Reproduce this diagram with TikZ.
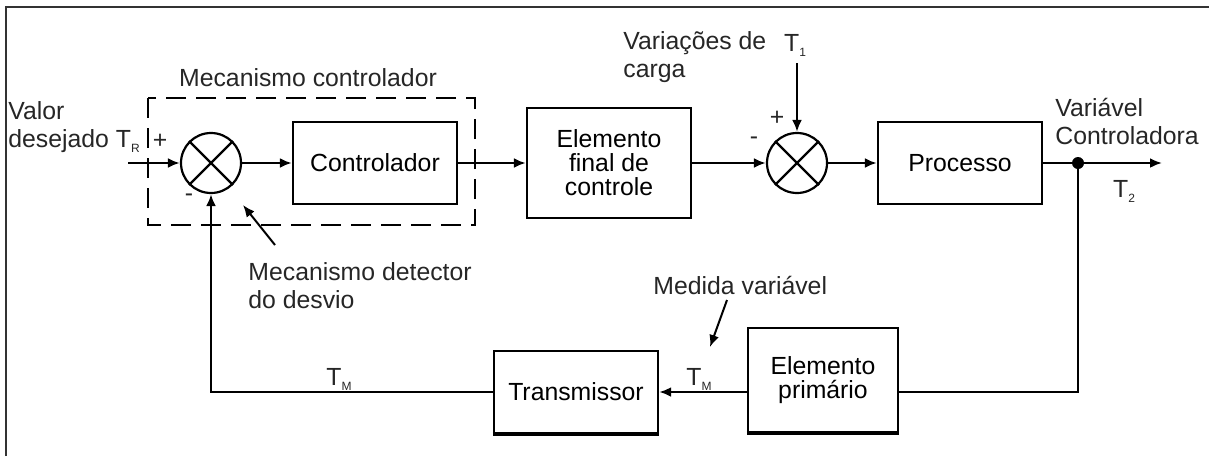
\documentclass[tikz,border=0pt]{standalone}
\usepackage{fontspec}
\setmainfont{Liberation Sans}
\usetikzlibrary{arrows.meta}
\newcommand{\idx}[1]{\raisebox{-2.5pt}{\fontsize{6}{6}\selectfont #1}}
\tikzset{
  bloco/.style={draw, line width=1.2pt, minimum width=82pt, minimum height=41pt, align=center},
  soma/.style={draw, circle, line width=1.1pt, minimum size=30pt, inner sep=0pt},
  linha/.style={line width=1.2pt},
  rotulo/.style={align=left, inner sep=0pt, text=black!85}
}
\begin{document}
\fontsize{12.4}{14}\selectfont
\begin{tikzpicture}[x=0.5pt, y=-0.5pt, >={Latex[length=6pt,width=5pt]}]
	\useasboundingbox (0,0) rectangle (1209,456);
	% 1. moldura
	\draw[line width=1.1pt, black!80] (6,456) -- (6,7) -- (1209,7);
	
	% 2. blocos e somadores
	\node[soma] (s1) at (211,163) {};
	\node[bloco] (ctrl) at (375,163) {Controlador};
	\node[bloco, minimum height=55pt] (efc) at (609,163) {Elemento\\[-2pt]final de\\[-2pt]controle};
	\node[soma] (s2) at (797,163) {};
	\node[bloco] (proc) at (960,163) {Processo};
	\node[bloco, minimum width=75pt, minimum height=52pt] (prim) at (823,380) {Elemento\\[-2pt]primário};
	\node[bloco] (trans) at (576,392) {Transmissor};
	\draw[linha] (s1.north east) -- (s1.south west) (s1.north west) -- (s1.south east);
	\draw[linha] (s2.north east) -- (s2.south west) (s2.north west) -- (s2.south east);
	% sombra inferior
	\draw[line width=2pt] (prim.south west) -- (prim.south east);
	\draw[line width=2pt] (trans.south west) -- (trans.south east);
	
	% 3. caixa tracejada do controlador
	\draw[linha, dash pattern=on 10pt off 5pt] (148,98) rectangle (475,225);
	\node[rotulo] (mctrl) at (308,78) {Mecanismo controlador};
	
	% 4. pontos auxiliares
	\coordinate (ent) at (128,163);
	\coordinate (t1) at (797,63);
	\coordinate (ramo) at (1078,163);
	\coordinate (sai) at (1162,163);
	
	% 5. ligações
	\draw[linha, ->] (ent) -- (s1.west);
	\draw[linha, ->] (s1.east) -- (ctrl.west);
	\draw[linha, ->] (ctrl.east) -- (efc.west);
	\draw[linha, ->] (efc.east) -- (s2.west);
	\draw[linha, ->] (t1) -- (s2.north);
	\draw[linha, ->] (s2.east) -- (proc.west);
	\draw[linha, ->] (proc.east) -- (sai);
	\fill (ramo) circle (3pt);
	\draw[linha] (ramo) |- (prim.east |- trans.east);
	\draw[linha, ->] (prim.west |- trans.east) -- (trans.east);
	\draw[linha, ->] (trans.west) -| (s1.south);
	
	% 6. textos
	\node[rotulo, anchor=west] (valor) at (8,127) {Valor\\desejado T\idx{R}};
	\node[rotulo] (p1) at (160,141) {+};
	\node[rotulo] (m1) at (189,198) {-};
	\node[rotulo] (p2) at (777,118) {+};
	\node[rotulo] (m2) at (754,141) {-};
	\node[rotulo, anchor=west] (varc) at (623,57) {Variações de\\carga};
	\node[rotulo] (lt1) at (795,45) {T\idx{1}};
	\node[rotulo, anchor=west] (varctl) at (1055,121) {Variável\\Controladora};
	\node[rotulo] (lt2) at (1124,191) {T\idx{2}};
	\node[rotulo, anchor=west] (detec) at (248,286) {Mecanismo detector\\do desvio};
	\node[rotulo, anchor=west] (medida) at (653,285) {Medida variável};
	\node[rotulo] (tm1) at (339,379) {T\idx{M}};
	\node[rotulo] (tm2) at (699,379) {T\idx{M}};
	
	% 7. setas das legendas
	\draw[line width=1pt, ->] (275,245) -- (243,205);
	\draw[line width=1pt, ->] (727,300) -- (710,347);
\end{tikzpicture}
\end{document}
